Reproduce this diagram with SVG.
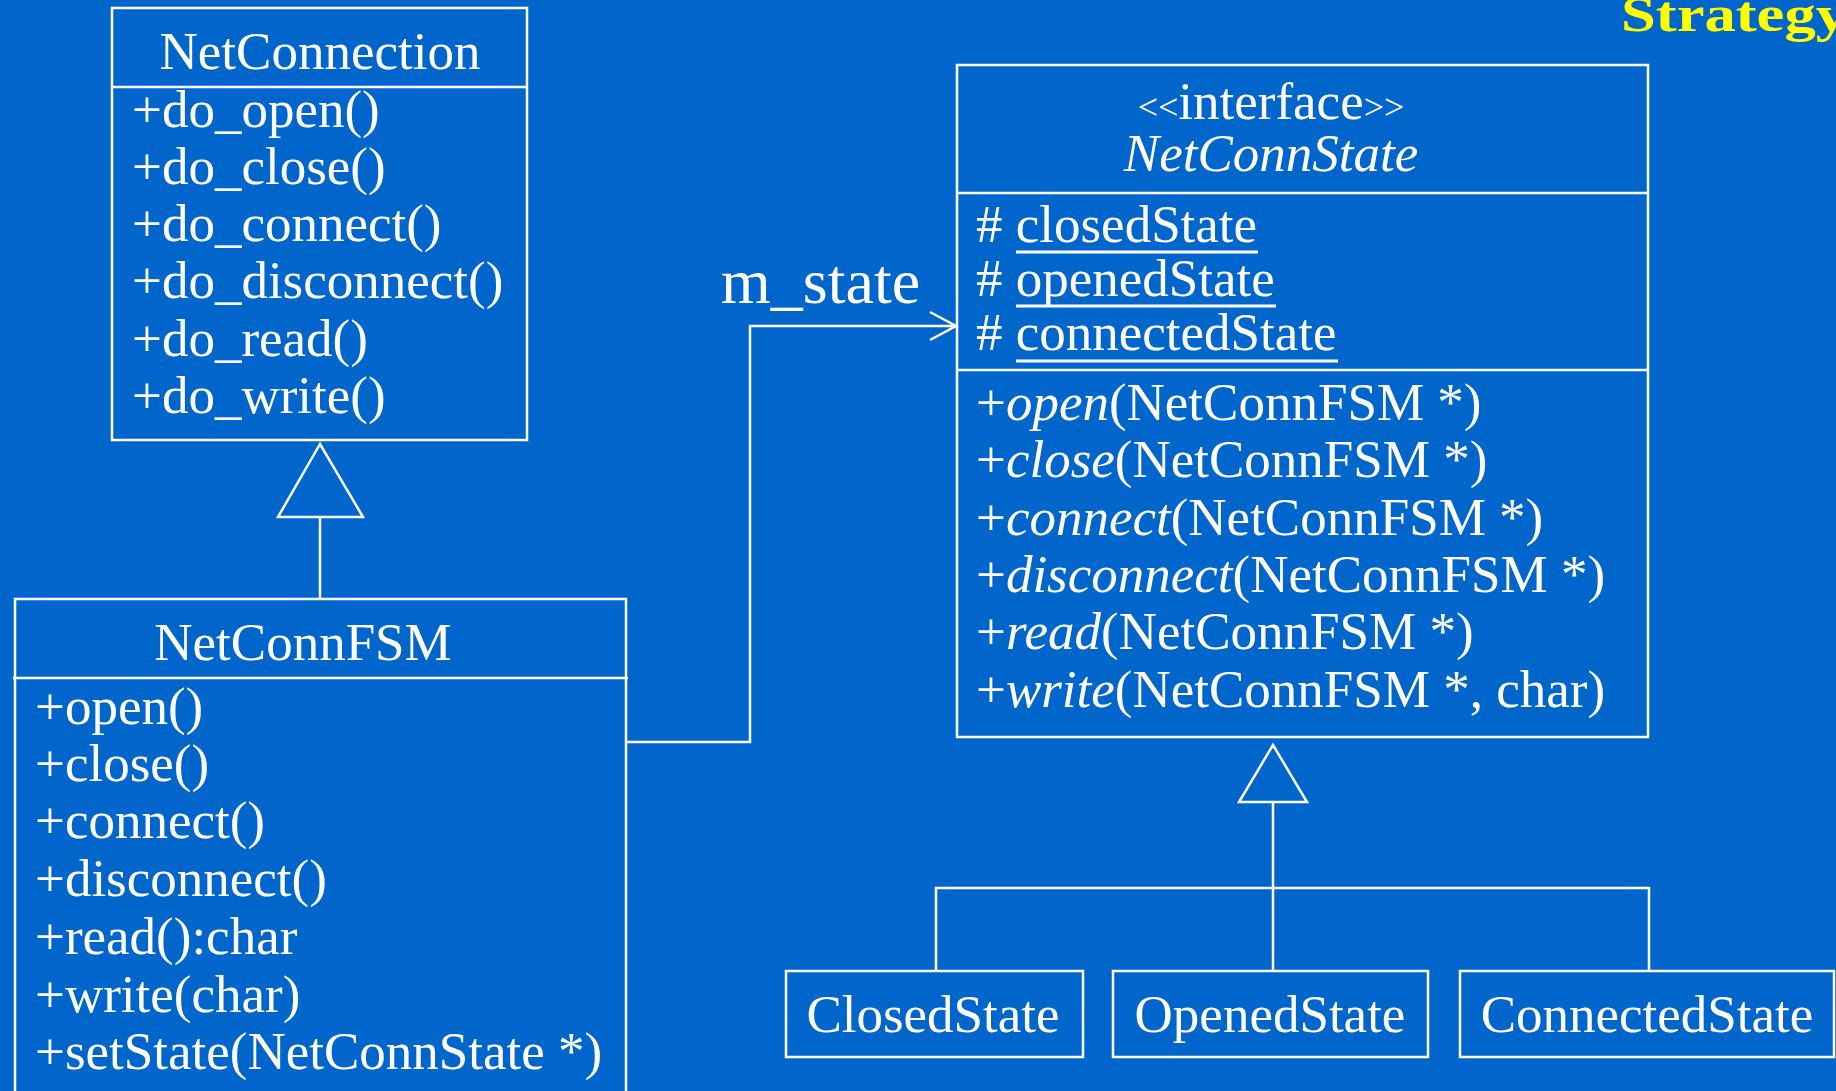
<svg xmlns="http://www.w3.org/2000/svg" width="1836" height="1091" viewBox="0 0 1836 1091">
<style>
  .bg { fill: #0066cc; }
  .box { fill: none; stroke: #ffffff; stroke-width: 2.5; }
  .ln { fill: none; stroke: #ffffff; stroke-width: 2.5; }
  .t { font-family: "Liberation Serif", "Times New Roman", serif; font-size: 53px; fill: #ffffff; }
  .c { text-anchor: middle; }
  .i { font-style: italic; }
  .sm { font-size: 36px; }
  .lbl { font-family: "Liberation Serif", "Times New Roman", serif; font-size: 64px; fill: #ffffff; }
  .title { font-family: "Liberation Serif", "Times New Roman", serif; font-size: 50px; font-weight: bold; fill: #ffff00; }
  .ul { stroke: #ffffff; stroke-width: 3; }
</style>
<rect class="bg" x="0" y="0" width="1836" height="1091"/>

<text class="title" x="1621" y="31" textLength="226" lengthAdjust="spacingAndGlyphs">Strategy</text>

<g id="connectors">
  <polygon class="ln" points="320,444 278,517 363,517"/>
  <line class="ln" x1="320" y1="517" x2="320" y2="599"/>
  <path class="ln" d="M626 742 H750 V326 H956"/>
  <path class="ln" d="M930 312 L956 326 L930 340"/>
  <text class="lbl" x="721" y="303">m_state</text>
  <polygon class="ln" points="1273,745 1239,802 1307,802"/>
  <line class="ln" x1="1273" y1="802" x2="1273" y2="972"/>
  <path class="ln" d="M936 971 V888 H1649 V971"/>
</g>

<g id="NetConnection">
  <rect class="box" x="112" y="8" width="415" height="432"/>
  <line class="ln" x1="112" y1="87" x2="527" y2="87"/>
  <text class="t c" x="320" y="69">NetConnection</text>
  <text class="t" x="132" y="127">+do_open()</text>
  <text class="t" x="132" y="184">+do_close()</text>
  <text class="t" x="132" y="241">+do_connect()</text>
  <text class="t" x="132" y="298">+do_disconnect()</text>
  <text class="t" x="132" y="356">+do_read()</text>
  <text class="t" x="132" y="413">+do_write()</text>
</g>

<g id="NetConnFSM">
  <rect class="box" x="15" y="599" width="611" height="520"/>
  <line class="ln" x1="13" y1="678" x2="628" y2="678"/>
  <text class="t c" x="303" y="660">NetConnFSM</text>
  <text class="t" x="35" y="724">+open()</text>
  <text class="t" x="35" y="781">+close()</text>
  <text class="t" x="35" y="838">+connect()</text>
  <text class="t" x="35" y="896">+disconnect()</text>
  <text class="t" x="35" y="954">+read():char</text>
  <text class="t" x="35" y="1012">+write(char)</text>
  <text class="t" x="35" y="1069">+setState(NetConnState *)</text>
</g>

<g id="NetConnState">
  <rect class="box" x="957" y="65" width="691" height="672"/>
  <line class="ln" x1="957" y1="193" x2="1648" y2="193"/>
  <line class="ln" x1="957" y1="370" x2="1648" y2="370"/>
  <text class="t c" x="1271" y="119"><tspan class="sm">&lt;&lt;</tspan>interface<tspan class="sm">&gt;&gt;</tspan></text>
  <text class="t c i" x="1271" y="171">NetConnState</text>
  <text class="t" x="976" y="242"># closedState</text>
  <text class="t" x="976" y="296"># openedState</text>
  <text class="t" x="976" y="350"># connectedState</text>
  <line class="ul" x1="1016" y1="252" x2="1258" y2="252"/>
  <line class="ul" x1="1016" y1="306" x2="1276" y2="306"/>
  <line class="ul" x1="1016" y1="361" x2="1338" y2="361"/>
  <text class="t" x="976" y="420">+<tspan class="i">open</tspan>(NetConnFSM *)</text>
  <text class="t" x="976" y="477">+<tspan class="i">close</tspan>(NetConnFSM *)</text>
  <text class="t" x="976" y="535">+<tspan class="i">connect</tspan>(NetConnFSM *)</text>
  <text class="t" x="976" y="592">+<tspan class="i">disconnect</tspan>(NetConnFSM *)</text>
  <text class="t" x="976" y="649">+<tspan class="i">read</tspan>(NetConnFSM *)</text>
  <text class="t" x="976" y="707">+<tspan class="i">write</tspan>(NetConnFSM *, char)</text>
</g>

<g id="ClosedState">
  <rect class="box" x="786" y="971" width="297" height="86"/>
  <text class="t c" x="933" y="1032">ClosedState</text>
</g>
<g id="OpenedState">
  <rect class="box" x="1113" y="971" width="315" height="86"/>
  <text class="t c" x="1270" y="1032">OpenedState</text>
</g>
<g id="ConnectedState">
  <rect class="box" x="1460" y="971" width="374" height="86"/>
  <text class="t c" x="1647" y="1032">ConnectedState</text>
</g>
</svg>
